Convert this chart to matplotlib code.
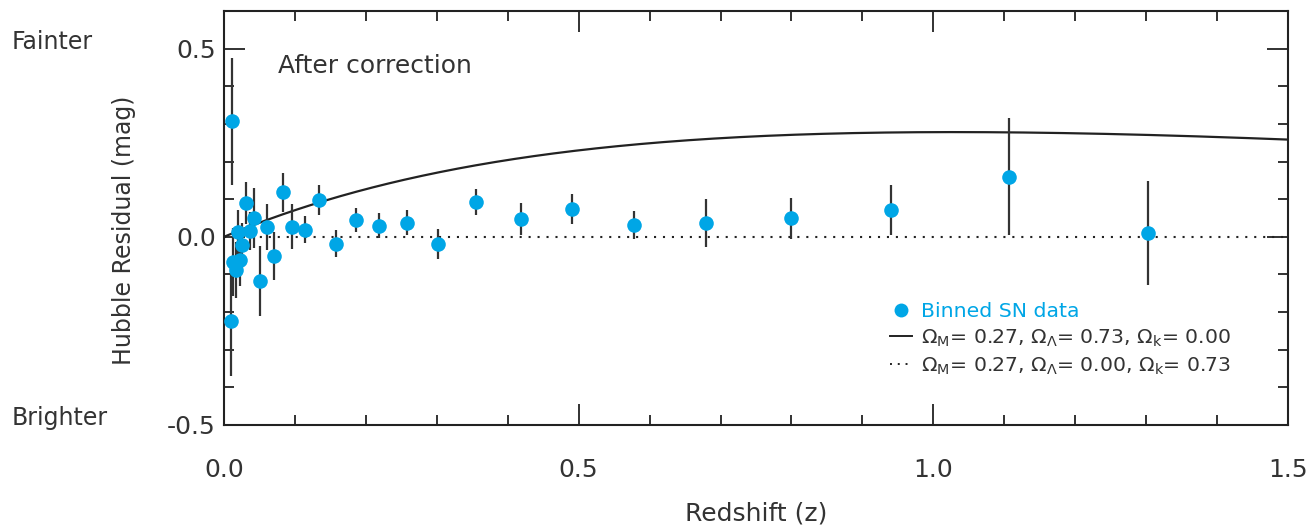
import numpy as np
import matplotlib
matplotlib.use("Agg")
import matplotlib.pyplot as plt
from matplotlib.lines import Line2D

plt.rcParams["font.family"] = ["DejaVu Sans"]
plt.rcParams["mathtext.default"] = "regular"
plt.rcParams["axes.unicode_minus"] = False

# Binned supernova Hubble residuals after correction
redshift = [0.0099, 0.0117, 0.0130, 0.0165, 0.0193, 0.0230, 0.0260, 0.0307,
            0.0370, 0.0428, 0.0510, 0.0600, 0.0705, 0.0827, 0.0960, 0.1140,
            0.1340, 0.1580, 0.1860, 0.2180, 0.2580, 0.3020, 0.3550, 0.4180,
            0.4910, 0.5780, 0.6800, 0.8000, 0.9410, 1.1070, 1.3020]
residual = [-0.223, 0.307, -0.066, -0.088, 0.012, -0.061, -0.022, 0.090,
            0.015, 0.049, -0.117, 0.025, -0.052, 0.118, 0.027, 0.019,
            0.098, -0.018, 0.045, 0.030, 0.038, -0.019, 0.092, 0.047,
            0.074, 0.031, 0.037, 0.049, 0.071, 0.160, 0.010]
residual_err = [0.146, 0.168, 0.090, 0.075, 0.060, 0.070, 0.060, 0.055,
                0.050, 0.080, 0.093, 0.061, 0.064, 0.051, 0.060, 0.036,
                0.039, 0.036, 0.032, 0.033, 0.032, 0.040, 0.034, 0.042,
                0.040, 0.037, 0.063, 0.055, 0.067, 0.155, 0.138]

# Cosmological models compared in the legend
omega_m_flat, omega_l_flat, omega_k_flat = 0.27, 0.73, 0.00
omega_m_open, omega_l_open, omega_k_open = 0.27, 0.00, 0.73

x_ticks = [0.0, 0.5, 1.0, 1.5]
x_tick_labels = ["0.0", "0.5", "1.0", "1.5"]
y_ticks = [-0.5, 0.0, 0.5]
y_tick_labels = ["-0.5", "0.0", "0.5"]

POINT_COLOR = "#00a6e6"
TEXT_COLOR = "#333333"
INK = "#222222"


def transverse_distance(z, om, ol, ok):
    """Dimensionless transverse comoving distance D_M * H0 / c."""
    zz = np.linspace(0.0, z.max(), 6001)
    e = np.sqrt(om * (1 + zz) ** 3 + ok * (1 + zz) ** 2 + ol)
    integrand = 1.0 / e
    dc = np.concatenate([[0.0], np.cumsum(0.5 * (integrand[1:] + integrand[:-1]) * np.diff(zz))])
    dc = np.interp(z, zz, dc)
    if ok > 0:
        return np.sinh(np.sqrt(ok) * dc) / np.sqrt(ok)
    return dc


z_model = np.linspace(0.002, 1.5, 600)
dm_flat = transverse_distance(z_model, omega_m_flat, omega_l_flat, omega_k_flat)
dm_open = transverse_distance(z_model, omega_m_open, omega_l_open, omega_k_open)
delta_mu = 5.0 * np.log10(dm_flat / dm_open)

fig = plt.figure(figsize=(13.1, 5.25), dpi=100)
ax = fig.add_axes([224 / 1310, 1 - 425 / 525, 1064 / 1310, 414 / 525])

ax.plot([0.0, 1.5], [0.0, 0.0], linestyle=(0, (1, 3.3)), color=INK, lw=1.5, zorder=1)
ax.plot(z_model, delta_mu, color=INK, lw=1.6, zorder=2)
ax.errorbar(redshift, residual, yerr=residual_err, fmt="none",
            ecolor="#333333", elinewidth=1.6, capsize=0, zorder=3)
ax.plot(redshift, residual, "o", color=POINT_COLOR, ms=10.5, mew=0, zorder=4)

ax.set_xlim(0.0, 1.5)
ax.set_ylim(-0.5, 0.6)
ax.set_xticks(x_ticks)
ax.set_xticklabels(x_tick_labels)
ax.set_yticks(y_ticks)
ax.set_yticklabels(y_tick_labels)
ax.set_xticks(np.arange(0.1, 1.5, 0.1), minor=True)
ax.set_yticks(np.arange(-0.4, 0.6, 0.1), minor=True)
ax.tick_params(which="both", direction="in", top=True, right=True,
               color=INK, width=1.3, labelcolor=TEXT_COLOR, labelsize=18)
ax.tick_params(which="major", length=15)
ax.tick_params(which="minor", length=7)
ax.tick_params(axis="x", which="major", pad=24)
ax.tick_params(axis="y", which="major", pad=6)
for spine in ax.spines.values():
    spine.set_color(INK)
    spine.set_linewidth(1.5)

ax.set_xlabel("Redshift (z)", fontsize=18, color=TEXT_COLOR, labelpad=14)
fig.text(124 / 1310, 1 - 230 / 525, "Hubble Residual (mag)", rotation=90,
         fontsize=17, color=TEXT_COLOR, ha="center", va="center")
fig.text(12 / 1310, 1 - 42 / 525, "Fainter", fontsize=17, color=TEXT_COLOR,
         ha="left", va="center")
fig.text(12 / 1310, 1 - 418 / 525, "Brighter", fontsize=17, color=TEXT_COLOR,
         ha="left", va="center")
ax.text(0.076, 0.455, "After correction", fontsize=18, color=TEXT_COLOR,
        ha="left", va="center")

handles = [
    Line2D([], [], marker="o", linestyle="none", color=POINT_COLOR, ms=10, mew=0),
    Line2D([], [], color=INK, lw=1.4),
    Line2D([], [], color=INK, lw=1.4, linestyle=(0, (1, 3))),
]
labels = [
    "Binned SN data",
    r"$\Omega_M$= %.2f, $\Omega_\Lambda$= %.2f, $\Omega_k$= %.2f" % (omega_m_flat, omega_l_flat, omega_k_flat),
    r"$\Omega_M$= %.2f, $\Omega_\Lambda$= %.2f, $\Omega_k$= %.2f" % (omega_m_open, omega_l_open, omega_k_open),
]
ax.legend(handles, labels, loc="upper left", bbox_to_anchor=((890 - 224) / 1064, (425 - 302) / 414),
          frameon=False, fontsize=14.7, handlelength=1.1, handletextpad=0.4,
          labelspacing=0.32, borderpad=0, borderaxespad=0,
          labelcolor=[POINT_COLOR, TEXT_COLOR, TEXT_COLOR])

fig.savefig("out.png", dpi=100)
